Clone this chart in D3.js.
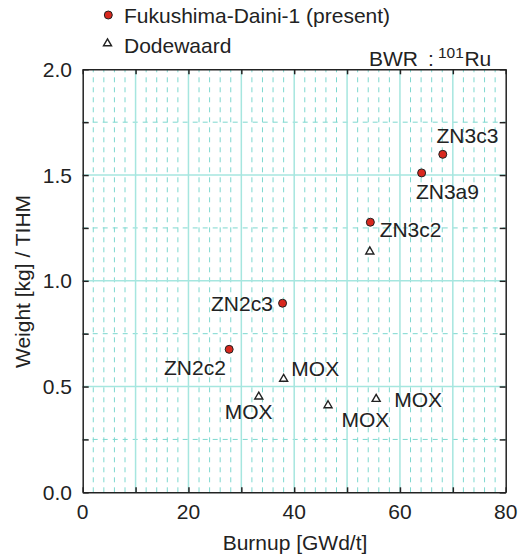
<!DOCTYPE html>
<html><head><meta charset="utf-8">
<script src="https://cdn.jsdelivr.net/npm/d3@7"></script>
<style>body{margin:0;background:#fff}svg text{font-family:"Liberation Sans",Arial,sans-serif;fill:#222}</style>
</head><body>
<script>
// Fukushima-Daini-1 (present)
const fdNames = ["ZN2c2","ZN2c3","ZN3c2","ZN3a9","ZN3c3"];
const fdBurnup = [27.7, 37.8, 54.4, 64.1, 68.1];
const fdWeight = [0.676, 0.894, 1.277, 1.51, 1.598];
// Dodewaard
const dwNames = ["","MOX","MOX","MOX","MOX"];
const dwBurnup = [54.3, 33.3, 38.0, 46.4, 55.5];
const dwWeight = [1.138, 0.452, 0.536, 0.411, 0.441];
const xTicks = [0,20,40,60,80];
const yTicks = [0.0,0.5,1.0,1.5,2.0];

const W=524,H=557;
const svg=d3.select("body").append("svg").attr("width",W).attr("height",H);
const x=d3.scaleLinear().domain([0,80]).range([82.7,505.7]);
const y=d3.scaleLinear().domain([0,2]).range([492.3,69.3]);
const fs=21;

const g=svg.append("g");
// dashed minor grid
const vMinor=d3.range(2,80,2).filter(v=>v%10!==0);
g.selectAll(".vm").data(vMinor).enter().append("line")
 .attr("x1",d=>x(d)).attr("x2",d=>x(d)).attr("y1",y(0)).attr("y2",y(2))
 .attr("stroke","#7dd8cf").attr("stroke-width",1).attr("stroke-dasharray","5,5");
const hMinor=[0.25,0.75,1.25,1.75];
g.selectAll(".hm").data(hMinor).enter().append("line")
 .attr("y1",d=>y(d)).attr("y2",d=>y(d)).attr("x1",x(0)).attr("x2",x(80))
 .attr("stroke","#7dd8cf").attr("stroke-width",1).attr("stroke-dasharray","5,5");
// solid major grid
g.selectAll(".vM").data([10,20,30,40,50,60,70]).enter().append("line")
 .attr("x1",d=>x(d)).attr("x2",d=>x(d)).attr("y1",y(0)).attr("y2",y(2))
 .attr("stroke","#a6e6df").attr("stroke-width",1.5);
g.selectAll(".hM").data([0.5,1.0,1.5]).enter().append("line")
 .attr("y1",d=>y(d)).attr("y2",d=>y(d)).attr("x1",x(0)).attr("x2",x(80))
 .attr("stroke","#a6e6df").attr("stroke-width",1.5);

// axes with inward ticks
const tickX=d3.range(0,81,10), tickY=d3.range(0,2.01,0.25);
const axB=d3.axisBottom(x).tickValues(tickX).tickSizeInner(-5).tickSizeOuter(0).tickFormat(()=> "");
const axT=d3.axisTop(x).tickValues(tickX).tickSizeInner(-5).tickSizeOuter(0).tickFormat(()=> "");
const axL=d3.axisLeft(y).tickValues(tickY).tickSizeInner(-6).tickSizeOuter(0).tickFormat(()=> "");
const axR=d3.axisRight(y).tickValues(tickY).tickSizeInner(-6).tickSizeOuter(0).tickFormat(()=> "");
[[axB,`translate(0,${y(0)})`],[axT,`translate(0,${y(2)})`],[axL,`translate(${x(0)},0)`],[axR,`translate(${x(80)},0)`]].forEach(([a,t])=>{
  const s=svg.append("g").attr("transform",t).call(a);
  s.selectAll("path,line").attr("stroke","#222").attr("stroke-width",1.5);
});
// tick labels
svg.selectAll(".xl").data(xTicks).enter().append("text")
 .attr("x",d=>x(d)).attr("y",518.5).attr("text-anchor","middle").attr("font-size",fs).text(d=>d);
svg.selectAll(".yl").data(yTicks).enter().append("text")
 .attr("x",72).attr("y",d=>y(d)+7.5).attr("text-anchor","end").attr("font-size",fs).text(d=>d.toFixed(1));
// axis titles
svg.append("text").attr("x",295).attr("y",550).attr("text-anchor","middle").attr("font-size",fs).text("Burnup [GWd/t]");
svg.append("text").attr("transform","translate(29.5,281.5) rotate(-90)").attr("text-anchor","middle").attr("font-size",fs).text("Weight [kg] / TIHM");

// data
const fd=fdNames.map((n,i)=>({n,x:fdBurnup[i],y:fdWeight[i]}));
const dw=dwNames.map((n,i)=>({n,x:dwBurnup[i],y:dwWeight[i]}));
const tri=d3.symbol().type(d3.symbolTriangle).size(28);
svg.selectAll(".dw").data(dw).enter().append("path").attr("d",tri)
 .attr("transform",d=>`translate(${x(d.x)},${y(d.y)})`).attr("fill","#fff").attr("stroke","#222").attr("stroke-width",1.4);
svg.selectAll(".fd").data(fd).enter().append("circle")
 .attr("cx",d=>x(d.x)).attr("cy",d=>y(d.y)).attr("r",4)
 .attr("fill","#d8281e").attr("stroke","#222").attr("stroke-width",1);

// point labels (offsets relative to points)
const fdOff=[[-3.3,26,"end"],[-9.7,7.5,"end"],[9.3,15,"start"],[-5.7,26.5,"start"],[-6.3,-11,"start"]];
svg.selectAll(".fdl").data(fd).enter().append("text")
 .attr("x",(d,i)=>x(d.x)+fdOff[i][0]).attr("y",(d,i)=>y(d.y)+fdOff[i][1])
 .attr("text-anchor",(d,i)=>fdOff[i][2]).attr("font-size",fs).text(d=>d.n);
const dwOff=[[0,0,"start"],[-34,22,"start"],[7.7,-2.5,"start"],[13.4,22,"start"],[18,7.5,"start"]];
svg.selectAll(".dwl").data(dw).enter().append("text")
 .attr("x",(d,i)=>x(d.x)+dwOff[i][0]).attr("y",(d,i)=>y(d.y)+dwOff[i][1])
 .attr("text-anchor",(d,i)=>dwOff[i][2]).attr("font-size",fs).text(d=>d.n);

// legend
svg.append("circle").attr("cx",108.3).attr("cy",15).attr("r",4).attr("fill","#d8281e").attr("stroke","#222");
svg.append("text").attr("x",124).attr("y",22.5).attr("font-size",fs).text("Fukushima-Daini-1 (present)");
svg.append("path").attr("d",tri).attr("transform","translate(107.5,43.5)").attr("fill","#fff").attr("stroke","#222").attr("stroke-width",1.4);
svg.append("text").attr("x",124).attr("y",52.5).attr("font-size",fs).text("Dodewaard");
// annotation
svg.append("text").attr("x",369).attr("y",65.5).attr("font-size",fs).text("BWR");
svg.append("text").attr("x",428).attr("y",65.5).attr("font-size",fs).text(":");
const t=svg.append("text").attr("x",438).attr("y",65.5).attr("font-size",fs);
t.append("tspan").attr("font-size",15.5).attr("dy",-7.5).text("101");
t.append("tspan").attr("dy",7.5).attr("dx",0.5).text("Ru");
</script>
</body></html>
